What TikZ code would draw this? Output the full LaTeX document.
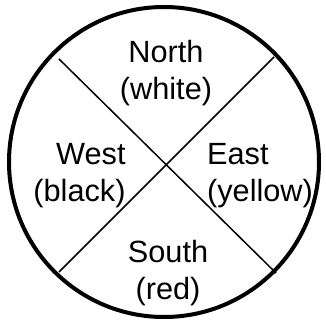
\documentclass[tikz,border=0pt]{standalone}
\usepackage{fontspec}
\setmainfont{Liberation Sans}
\begin{document}
\begin{tikzpicture}[x=1pt,y=1pt,
  lbl/.style={inner sep=0pt,font=\fontsize{30.7}{37}\selectfont},
  rim/.style={line width=4pt},
  spoke/.style={line width=1.5pt}]
\useasboundingbox (0,0) rectangle (325,326);
\node[circle,draw,rim,minimum size=310pt,inner sep=0pt] (c) at (164,164) {};
\coordinate (a1) at (59,267);
\coordinate (a2) at (276,53);
\coordinate (b1) at (274,269);
\coordinate (b2) at (59,54);
\draw[spoke] (a1) -- (a2);
\draw[spoke] (b1) -- (b2);
\node[lbl,align=center] (north) at (166,252.5) {North\\(white)};
\node[lbl,align=right] (west) at (79.5,150) {West\\(black)};
\node[lbl,align=left] (east) at (260,150) {East\\(yellow)};
\node[lbl,align=center] (south) at (168,53) {South\\(red)};
\end{tikzpicture}
\end{document}
